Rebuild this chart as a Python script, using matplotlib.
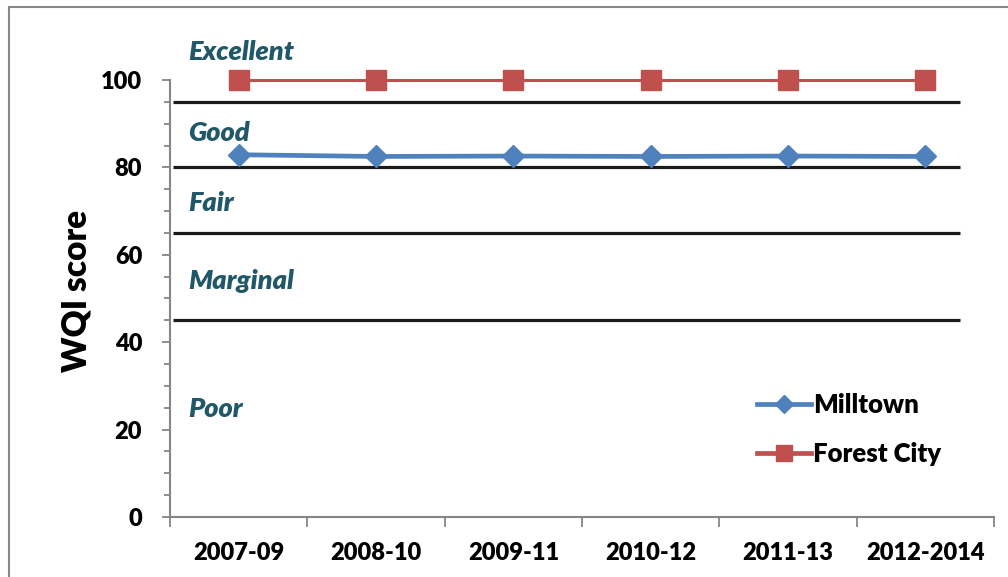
import matplotlib.pyplot as plt
import matplotlib.patches as patches
import numpy as np
from matplotlib.ticker import MultipleLocator, FixedLocator

plt.rcParams['font.family'] = ['Lato', 'DejaVu Sans']

periods = ['2007-09', '2008-10', '2009-11', '2010-12', '2011-13', '2012-2014']
milltown = [82.9, 82.5, 82.6, 82.5, 82.6, 82.5]
forest_city = [100, 100, 100, 100, 100, 100]

# class boundaries and labels
bounds = [95, 80, 65, 45]
classes = ['Excellent', 'Good', 'Fair', 'Marginal', 'Poor']
class_y = [106.4, 87.9, 71.9, 54.0, 24.7]

GRAY = '#868686'
TEAL = '#215868'
W = 'heavy'

fig = plt.figure(figsize=(10.08, 5.77), dpi=100)
ax = fig.add_axes([170 / 1008, 1 - 517 / 577, 824 / 1008, 437 / 577])

x = np.arange(len(periods))

for b in bounds:
    ax.hlines(b, -0.478, 5.254, color='#1a1a1a', lw=2.3, zorder=2)

ax.plot(x, milltown, color='#4F81BD', lw=3.4, marker='D', ms=11,
        label='Milltown', zorder=4, clip_on=False)
ax.plot(x, forest_city, color='#C0504D', lw=2.2, marker='s', ms=14,
        label='Forest City', zorder=4, clip_on=False)

for name, yy in zip(classes, class_y):
    ax.text(-0.37, yy, name, color=TEAL, fontsize=19.5, fontweight=W,
            fontstyle='italic', va='center', ha='left', clip_on=False)

ax.set_xlim(-0.5, 5.5)
ax.set_ylim(0, 100)

ax.xaxis.set_major_locator(FixedLocator(np.arange(-0.5, 6, 1)))
ax.xaxis.set_minor_locator(FixedLocator(x))
ax.set_xticklabels([], minor=False)
ax.set_xticklabels(periods, minor=True)
ax.tick_params(axis='x', which='major', direction='out', length=7, width=1.3, color=GRAY)
ax.tick_params(axis='x', which='minor', length=0, pad=18, labelsize=17)

ax.yaxis.set_major_locator(MultipleLocator(20))
ax.yaxis.set_minor_locator(MultipleLocator(5))
ax.tick_params(axis='y', which='major', direction='out', length=6, width=1.3,
               color=GRAY, pad=14, labelsize=17)
ax.tick_params(axis='y', which='minor', direction='out', length=4, width=1.3, color=GRAY)
for lab in ax.get_xticklabels(minor=True) + ax.get_yticklabels():
    lab.set_fontweight(W)

for s in ['top', 'right']:
    ax.spines[s].set_visible(False)
for s in ['left', 'bottom']:
    ax.spines[s].set_color(GRAY)
    ax.spines[s].set_linewidth(1.5)

ax.set_ylabel('WQI score', fontsize=24, fontweight=W)
ax.yaxis.set_label_coords(-0.094, 0.517)

leg = ax.legend(loc='center left', bbox_to_anchor=(0.684, 0.20), frameon=False,
                handlelength=2.1, handletextpad=0.1, labelspacing=1.0,
                markerscale=0.85, prop={'weight': W, 'size': 18.5})
for ln in leg.get_lines():
    ln.set_linewidth(3.4)

fig.patches.append(patches.Rectangle((9 / 1008, -0.05), 1.1, 1.05 - 7 / 577,
                                     transform=fig.transFigure, fill=False,
                                     edgecolor='#898989', lw=1.5))

fig.savefig('out.png', dpi=100)
